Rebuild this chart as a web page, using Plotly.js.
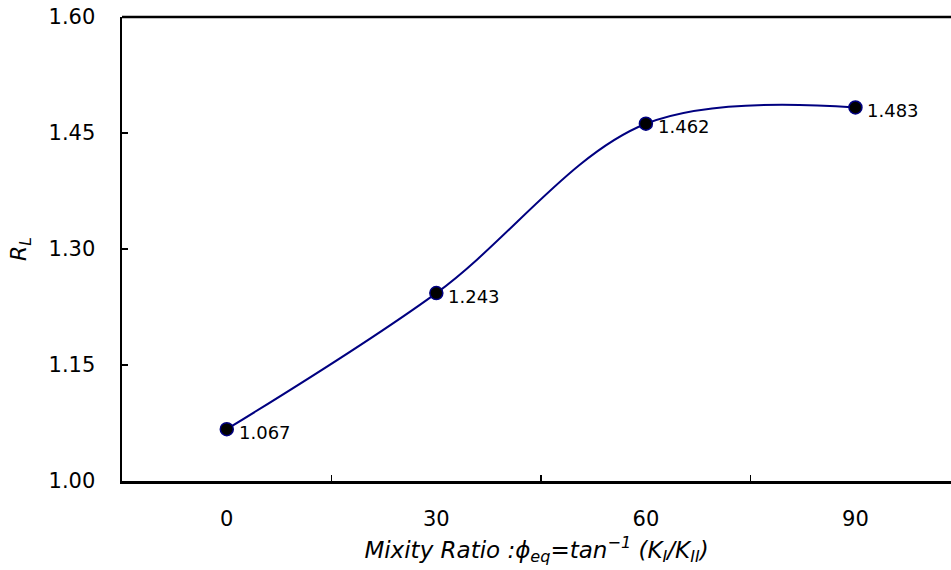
<!DOCTYPE html>
<html>
<head>
<meta charset="utf-8">
<script src="https://cdn.plot.ly/plotly-3.0.1.min.js"></script>
<style>html,body{margin:0;padding:0;overflow:hidden;background:#fff}#chart{width:951px;height:570px}</style>
</head>
<body>
<div id="chart"></div>
<script>
const categories = ['0', '30', '60', '90'];
const rValues = [1.067, 1.243, 1.462, 1.483];
const valueLabels = ['1.067', '1.243', '1.462', '1.483'];
const yTickVals = [1.00, 1.15, 1.30, 1.45, 1.60];
const yTickText = ['1.00', '1.15', '1.30', '1.45', '1.60'];

const font = 'DejaVu Sans, Arial, sans-serif';

const trace = {
  x: categories,
  y: rValues,
  type: 'scatter',
  mode: 'lines+markers',
  line: {color: '#000080', width: 2, shape: 'spline', smoothing: 1},
  marker: {color: '#000000', size: 13, line: {color: '#000080', width: 1.5}},
  cliponaxis: false,
  hoverinfo: 'x+y'
};

const labelAnnotations = categories.map((c, i) => ({
  x: i, y: rValues[i], xref: 'x', yref: 'y',
  text: valueLabels[i], showarrow: false,
  xanchor: 'left', yanchor: 'middle',
  xshift: 10, yshift: -3,
  font: {family: font, size: 18, color: '#000'}
}));

const layout = {
  width: 951,
  height: 570,
  margin: {l: 122, r: 0, t: 17, b: 89},
  paper_bgcolor: '#fff',
  plot_bgcolor: '#fff',
  showlegend: false,
  font: {family: font, color: '#000'},
  xaxis: {
    type: 'category',
    range: [-0.5, 3.456],
    tickson: 'boundaries',
    ticks: 'inside',
    ticklen: 6,
    tickwidth: 1.5,
    tickcolor: '#000',
    showline: true,
    linecolor: '#000',
    linewidth: 2.5,
    showgrid: false,
    zeroline: false,
    tickfont: {family: font, size: 21, color: '#000'},
    ticklabelstandoff: 17,
    title: {
      text: '<i>Mixity Ratio :ϕ<sub>eq</sub>=tan<sup>−1</sup> (K<sub>I</sub>/K<sub>II</sub>)</i>',
      font: {family: font, size: 23, color: '#000'},
      standoff: 12
    }
  },
  yaxis: {
    range: [1.0, 1.6],
    tickmode: 'array',
    tickvals: yTickVals,
    ticktext: yTickText,
    ticks: 'inside',
    ticklen: 6,
    tickwidth: 1.5,
    tickcolor: '#000',
    showline: true,
    linecolor: '#000',
    linewidth: 2.5,
    showgrid: false,
    zeroline: false,
    tickfont: {family: font, size: 21, color: '#000'},
    ticklabelstandoff: 20,
    title: {
      text: '<i>R<sub>L</sub></i>',
      font: {family: font, size: 22, color: '#000'},
      standoff: 16
    }
  },
  annotations: labelAnnotations,
  shapes: [{
    type: 'line', xref: 'paper', yref: 'paper',
    x0: 0, x1: 1, y0: 1, y1: 1,
    line: {color: '#000', width: 2.5}
  }]
};

Plotly.newPlot('chart', [trace], layout, {displayModeBar: false, staticPlot: true});
</script>
</body>
</html>
